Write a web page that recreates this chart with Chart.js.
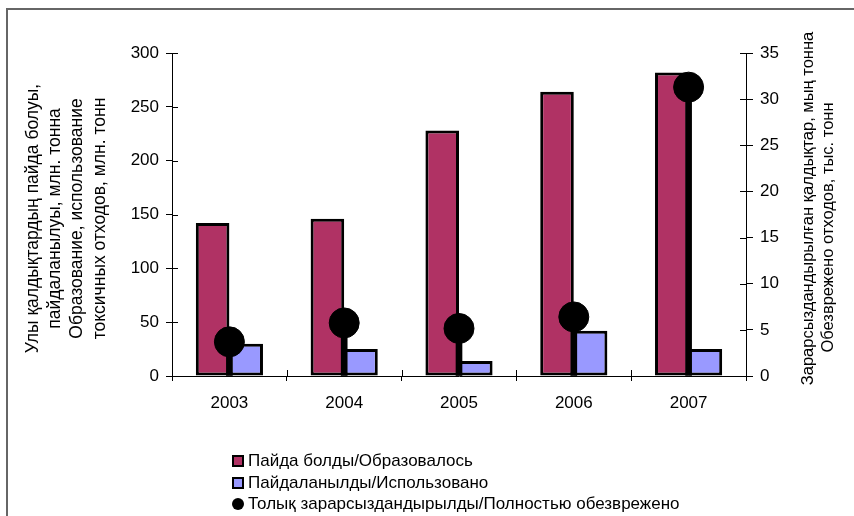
<!DOCTYPE html>
<html>
<head>
<meta charset="utf-8">
<script src="https://cdn.jsdelivr.net/npm/chart.js@4/dist/chart.umd.min.js"></script>
<style>
  html, body { margin: 0; padding: 0; background: #fff; }
  #wrap { position: relative; width: 854px; height: 516px; overflow: hidden; }
  #frame { position: absolute; left: 6px; top: 8px; width: 900px; height: 600px;
           border-left: 2px solid #666; border-top: 2px solid #666; box-sizing: border-box; }
  #myChart { position: absolute; left: 0; top: 0; }
  #legend { position: absolute; left: 232px; top: 450px; font-family: "Liberation Sans", Arial, sans-serif;
            font-size: 17px; color: #000; line-height: 21.5px; }
  #legend .box { display: inline-block; width: 8px; height: 8px; border: 2px solid #000;
                 vertical-align: -1px; margin-right: 4px; }
  #legend .dot { display: inline-block; width: 12px; height: 12px; border-radius: 50%;
                 background: #000; vertical-align: -1px; margin-right: 4px; }
</style>
</head>
<body>
<div id="wrap">
  <div id="frame"></div>
  <canvas id="myChart" width="854" height="516"></canvas>
  <div id="legend"></div>
</div>
<script>
var years = ['2003', '2004', '2005', '2006', '2007'];
var formed = [142, 146, 228, 264, 282];       // млн. тонн
var used = [30, 25, 14, 42, 25];              // млн. тонн
var neutralized = [3.7, 5.75, 5.15, 6.4, 31.3]; // тыс. тонн

var formedLabel = 'Пайда болды/Образовалось';
var usedLabel = 'Пайдаланылды/Использовано';
var neutralizedLabel = 'Толық зарарсыздандырылды/Полностью обезврежено';

var leftTitle = ['Улы қалдықтардың пайда болуы,', 'пайдаланылуы, млн. тонна',
                 'Образование, использование', 'токсичных отходов, млн. тонн'];
var rightTitle = ['Зарарсыздандырылған қалдықтар, мың тонна', 'Обезврежено отходов, тыс. тонн'];

var fontFamily = '"Liberation Sans", Arial, sans-serif';

// both axis titles are drawn here, rotated to read bottom-to-top
var axisTitlesPlugin = {
    id: 'axisTitles',
    afterDraw: function (chart) {
        var ctx = chart.ctx;
        var area = chart.chartArea;
        var cy = (area.top + area.bottom) / 2;
        ctx.save();
        ctx.fillStyle = '#000';
        ctx.textAlign = 'center';
        ctx.textBaseline = 'middle';
        function drawLine(text, x, y) {
            ctx.save();
            ctx.translate(x, y);
            ctx.rotate(-Math.PI / 2);
            ctx.fillText(text, 0, 0);
            ctx.restore();
        }
        ctx.font = '17.5px ' + fontFamily;
        for (var i = 0; i < leftTitle.length; i++) {
            drawLine(leftTitle[i], area.left - 139 + i * 22.3, cy + 4);
        }
        ctx.font = '16.5px ' + fontFamily;
        var offs = [[62, -6], [82, 13]];
        for (var j = 0; j < rightTitle.length; j++) {
            drawLine(rightTitle[j], area.right + offs[j][0], cy + offs[j][1]);
        }
        ctx.restore();
    }
};

// excel style "cross" tick marks: draw the inner half
var innerTicksPlugin = {
    id: 'innerTicks',
    afterDraw: function (chart) {
        var ctx = chart.ctx;
        var area = chart.chartArea;
        ctx.save();
        ctx.strokeStyle = '#000';
        ctx.lineWidth = 1;
        ctx.beginPath();
        var y = chart.scales.y, y1 = chart.scales.y1, x = chart.scales.x;
        y.ticks.forEach(function (t, i) {
            var p = Math.round(y.getPixelForTick(i)) + 0.5;
            ctx.moveTo(area.left, p); ctx.lineTo(area.left + 6, p);
        });
        y1.ticks.forEach(function (t, i) {
            var p = Math.round(y1.getPixelForTick(i)) + 0.5;
            ctx.moveTo(area.right - 6, p); ctx.lineTo(area.right, p);
        });
        var n = x.ticks.length;
        var w = (area.right - area.left) / n;
        for (var i = 1; i < n; i++) {
            var px = Math.round(area.left + w * i) + 0.5;
            ctx.moveTo(px, area.bottom - 6); ctx.lineTo(px, area.bottom);
        }
        ctx.stroke();
        ctx.restore();
    }
};

var ctx = document.getElementById('myChart').getContext('2d');
var myChart = new Chart(ctx, {
    data: {
        labels: years,
        datasets: [{
            type: 'line',
            label: neutralizedLabel,
            data: neutralized,
            yAxisID: 'y1',
            showLine: false,
            pointRadius: 15,
            pointHoverRadius: 15,
            pointBackgroundColor: '#000',
            pointBorderColor: '#000',
            order: 0
        }, {
            type: 'bar',
            label: 'stem',
            data: neutralized,
            yAxisID: 'y1',
            grouped: false,
            barThickness: 6,
            backgroundColor: '#000',
            borderWidth: 0,
            order: 1
        }, {
            type: 'bar',
            label: formedLabel,
            data: formed,
            yAxisID: 'y',
            backgroundColor: '#B03264',
            borderColor: '#000',
            borderWidth: 3,
            borderSkipped: false,
            order: 2
        }, {
            type: 'bar',
            label: usedLabel,
            data: used,
            yAxisID: 'y',
            backgroundColor: '#9999FF',
            borderColor: '#000',
            borderWidth: 3,
            borderSkipped: false,
            order: 2
        }]
    },
    options: {
        responsive: false,
        animation: { duration: 0 },
        datasets: {
            bar: { categoryPercentage: 0.585, barPercentage: 1 }
        },
        layout: { padding: { left: 22, right: 10, top: 53, bottom: 100 } },
        plugins: {
            legend: { display: false },
            tooltip: { enabled: false }
        },
        scales: {
            x: {
                grid: { drawOnChartArea: false, color: '#000', tickLength: 5, offset: true },
                border: { color: '#000' },
                ticks: { color: '#000', padding: 12, font: { size: 17, family: fontFamily } },
                afterFit: function (s) { s.height = 40; }
            },
            y: {
                position: 'left',
                min: 0, max: 300,
                ticks: { stepSize: 50, color: '#000', padding: 7, font: { size: 17, family: fontFamily } },
                grid: { drawOnChartArea: false, color: '#000', tickLength: 6 },
                border: { color: '#000' },
                afterFit: function (s) { s.width = 150; }
            },
            y1: {
                position: 'right',
                min: 0, max: 35,
                ticks: { stepSize: 5, color: '#000', padding: 7, font: { size: 17, family: fontFamily } },
                grid: { drawOnChartArea: false, color: '#000', tickLength: 7 },
                border: { color: '#000' },
                afterFit: function (s) { s.width = 98; }
            }
        }
    },
    plugins: [axisTitlesPlugin, innerTicksPlugin]
});

// legend, one item per line
var legendItems = [
    { label: formedLabel, color: '#B03264', kind: 'box' },
    { label: usedLabel, color: '#9999FF', kind: 'box' },
    { label: neutralizedLabel, color: '#000', kind: 'dot' }
];
var legendDiv = document.getElementById('legend');
legendItems.forEach(function (it) {
    var row = document.createElement('div');
    var mark = document.createElement('span');
    mark.className = it.kind;
    mark.style.background = it.color;
    row.appendChild(mark);
    row.appendChild(document.createTextNode(it.label));
    legendDiv.appendChild(row);
});
</script>
</body>
</html>
